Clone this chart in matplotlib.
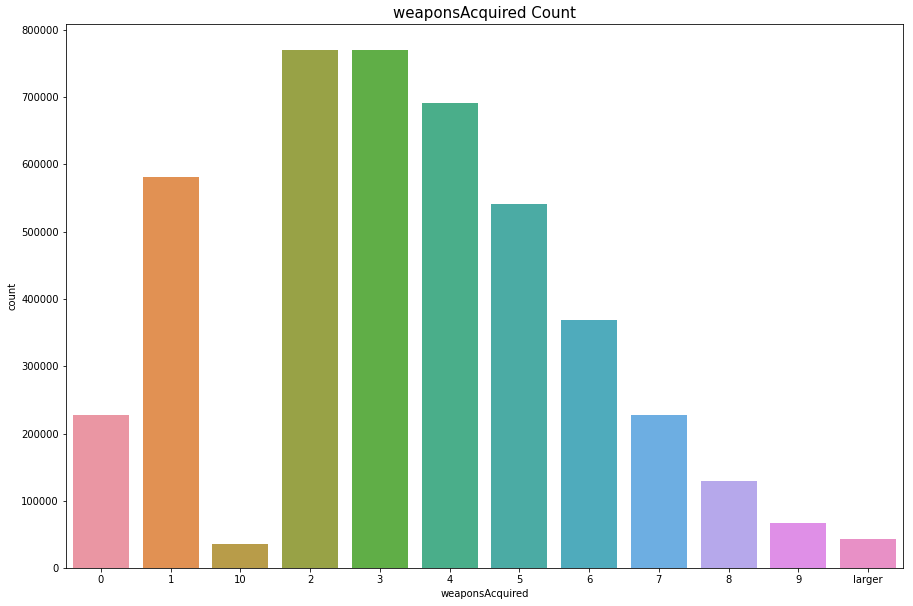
import matplotlib
matplotlib.use("Agg")
import matplotlib.pyplot as plt
import seaborn as sns

categories = ["0", "1", "10", "2", "3", "4", "5", "6", "7", "8", "9", "larger"]
counts = [227000, 581000, 35500, 769500, 769500, 690500, 540500, 369500,
          227000, 129000, 68000, 43000]

fig = plt.figure(figsize=(913 / 72, 606 / 72), dpi=72)
ax = fig.add_axes([66 / 913, 1 - 568.3 / 606, (903 - 66) / 913, (568.3 - 24.3) / 606])

# seaborn's categorical default for many levels: husl with l=.7, then desaturated
palette = sns.husl_palette(len(categories), l=.7)
sns.barplot(x=categories, y=counts, hue=categories, palette=palette,
            saturation=0.75, legend=False, ax=ax)

ax.set_xlabel("weaponsAcquired")
ax.set_ylabel("count")
ax.set_title("weaponsAcquired Count", fontsize=15)
ax.ticklabel_format(axis="y", style="plain")

fig.savefig("out.png", dpi=72)
